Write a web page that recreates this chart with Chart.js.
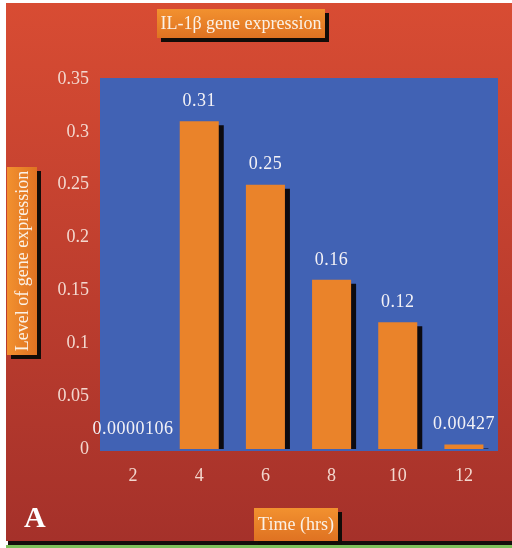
<!DOCTYPE html>
<html>
<head>
<meta charset="utf-8">
<script src="https://cdn.jsdelivr.net/npm/chart.js@4/dist/chart.umd.min.js"></script>
<style>
  html, body { margin: 0; padding: 0; background: #ffffff; }
  canvas { display: block; }
</style>
</head>
<body>
<canvas id="chart" width="512" height="548"></canvas>
<script>
// Time points (hours) and IL-1β expression levels
const hours = ['2', '4', '6', '8', '10', '12'];
const expression = [0.0000106, 0.31, 0.25, 0.16, 0.12, 0.00427];
const valueLabels = ['0.0000106', '0.31', '0.25', '0.16', '0.12', '0.00427'];

// Y axis ticks
const yTicks = [0, 0.05, 0.1, 0.15, 0.2, 0.25, 0.3, 0.35];
const yTickLabels = ['0', '0.05', '0.1', '0.15', '0.2', '0.25', '0.3', '0.35'];

// Captions
const chartTitle = 'IL-1β gene expression';
const yTitle = 'Level of gene expression';
const xTitle = 'Time (hrs)';
const panelLetter = 'A';

const SERIF = '"Liberation Serif", "Times New Roman", serif';
const CAPTION_TEXT = '#fbf1e6';

function orangeBox(ctx, x, y, w, h, vertical) {
  // black drop shadow
  ctx.fillStyle = '#120c08';
  ctx.fillRect(x + 4, y + 4, w, h);
  const g = vertical
    ? ctx.createLinearGradient(x, 0, x + w, 0)
    : ctx.createLinearGradient(0, y, 0, y + h);
  g.addColorStop(0, '#f2912f');
  g.addColorStop(1, '#df7222');
  ctx.fillStyle = g;
  ctx.fillRect(x, y, w, h);
}

const decorPlugin = {
  id: 'decor',
  beforeDraw(chart) {
    const ctx = chart.ctx;
    const a = chart.chartArea;
    ctx.save();
    // page
    ctx.fillStyle = '#ffffff';
    ctx.fillRect(0, 0, 512, 548);
    const bg = ctx.createLinearGradient(0, 3, 0, 541);
    bg.addColorStop(0, '#d84c33');
    bg.addColorStop(1, '#a5312a');
    ctx.fillStyle = bg;
    ctx.fillRect(6, 3, 506, 538);
    ctx.fillStyle = '#140e0c';
    ctx.fillRect(8, 541, 504, 4);
    ctx.fillStyle = '#7cc05a';
    ctx.fillRect(6, 545, 506, 3);

    // plot area
    ctx.fillStyle = '#4162b4';
    ctx.fillRect(a.left, a.top - 1, a.right - a.left + 1, a.bottom - a.top + 3);

    ctx.font = '18px ' + SERIF;
    ctx.textAlign = 'center';
    ctx.textBaseline = 'middle';

    // title
    orangeBox(ctx, 157, 9, 168, 29, false);
    ctx.fillStyle = CAPTION_TEXT;
    ctx.fillText(chartTitle, 241, 24);

    // y axis title
    orangeBox(ctx, 7, 167, 30, 188, true);
    ctx.fillStyle = CAPTION_TEXT;
    ctx.save();
    ctx.translate(23, 261);
    ctx.rotate(-Math.PI / 2);
    ctx.fillText(yTitle, 0, 0);
    ctx.restore();

    // x axis title
    orangeBox(ctx, 254, 508, 84, 33, false);
    ctx.fillStyle = CAPTION_TEXT;
    ctx.fillText(xTitle, 296, 525);

    // panel letter
    ctx.fillStyle = '#ffffff';
    ctx.font = 'bold 30px ' + SERIF;
    ctx.textAlign = 'left';
    ctx.fillText(panelLetter, 24, 519);
    ctx.restore();
  },
  beforeDatasetsDraw(chart) {
    const ctx = chart.ctx;
    ctx.shadowColor = '#0c0a10';
    ctx.shadowOffsetX = 5;
    ctx.shadowOffsetY = 4;
    ctx.shadowBlur = 0;
  },
  afterDatasetsDraw(chart) {
    const ctx = chart.ctx;
    ctx.shadowColor = 'rgba(0,0,0,0)';
    ctx.shadowOffsetX = 0;
    ctx.shadowOffsetY = 0;
    ctx.save();
    ctx.fillStyle = '#f4f2f6';
    ctx.font = '18px ' + SERIF;
    ctx.letterSpacing = '0.5px';
    ctx.textAlign = 'center';
    ctx.textBaseline = 'middle';
    chart.getDatasetMeta(0).data.forEach((bar, i) => {
      ctx.fillText(valueLabels[i], bar.x, bar.y - 20);
    });
    ctx.restore();
  }
};

new Chart(document.getElementById('chart'), {
  type: 'bar',
  data: {
    labels: hours,
    datasets: [{
      data: expression,
      backgroundColor: '#ea832a',
      borderWidth: 0,
      categoryPercentage: 1,
      barPercentage: 0.59
    }]
  },
  options: {
    responsive: false,
    devicePixelRatio: 1,
    animation: false,
    layout: { padding: { top: 79, right: 15, left: 0, bottom: 0 } },
    plugins: {
      legend: { display: false },
      title: { display: false },
      tooltip: { enabled: false }
    },
    scales: {
      x: {
        grid: { display: false, drawTicks: false },
        border: { display: false },
        ticks: {
          color: '#f3d8cf',
          font: { family: SERIF, size: 18 },
          padding: 16
        },
        afterFit(scale) { scale.height = 99; }
      },
      y: {
        min: 0,
        max: 0.35,
        grid: { display: false, drawTicks: false },
        border: { display: false },
        afterBuildTicks(scale) { scale.ticks = yTicks.map(v => ({ value: v })); },
        ticks: {
          color: '#f3d8cf',
          font: { family: SERIF, size: 18 },
          padding: 11,
          callback(value) {
            const i = yTicks.findIndex(t => Math.abs(t - value) < 1e-9);
            return i >= 0 ? yTickLabels[i] : '';
          }
        },
        afterFit(scale) { scale.width = 100; }
      }
    }
  },
  plugins: [decorPlugin]
});
</script>
</body>
</html>
